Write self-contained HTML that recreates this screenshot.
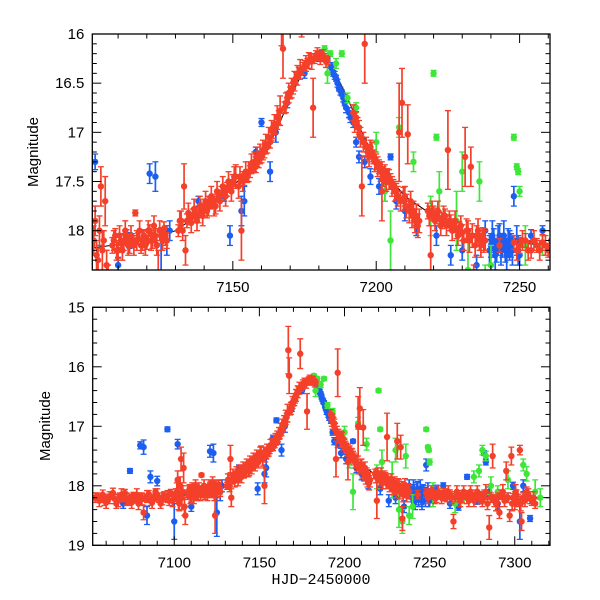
<!DOCTYPE html>
<html><head><meta charset="utf-8"><style>
html,body{margin:0;padding:0;background:#fff;}
svg{display:block;font-family:"Liberation Sans",sans-serif;}
</style></head><body>
<svg id="chart" width="600" height="600" viewBox="0 0 600 600"></svg>
<script>
// Data: [time, magnitude, error]
const redData = [
[7055,18.18,.06],[7057,18.22,.06],[7059,18.25,.08],[7061,18.2,.06],[7063,18.15,.05],[7065,18.22,.08],[7066,18.3,.08],[7068,18.18,.06],[7070,18.2,.07],[7071,18.12,.06],[7073,18.25,.08],[7074,18.2,.06],[7076,18.16,.05],[7077,18.22,.07],[7079,18.3,.1],[7080,18.18,.06],[7082,18.45,.12],[7083,18.2,.06],[7085,18.14,.06],[7086,18.25,.08],[7088,18.2,.06],[7089,18.1,.05],[7091,18.22,.06],[7092,18.3,.08],[7094,18.16,.06],[7095,18.2,.07],[7097,18.25,.08],[7098,18.12,.06],[7100,18.2,.06],[7101,18.15,.1],[7102,17.9,.15],[7103,18.3,.12],[7104,17.55,.2],[7105,18.1,.1],[7105.5,17.7,.25],[7106,18.35,.15],[7106.5,18.5,.15],
[7108,18.15,.08],[7109,18.05,.07],[7110,18.2,.08],[7111,18.1,.07],[7112,18.12,.08],[7113,18.05,.06],[7114,18.15,.08],[7115,18.1,.07],[7116,17.82,.03],[7117,18.08,.06],[7118,18.15,.08],[7119,18.05,.06],[7120,18.12,.07],[7121,18.0,.06],[7122,18.1,.08],[7123,18.05,.07],[7124,18.5,.3],[7125,18.05,.08],[7126,17.98,.07],[7127,18.1,.08],
[7131,18.0,.06],[7132,17.9,.1],[7133,17.55,.23],[7133.5,18.2,.15],[7134,17.9,.07],[7135,17.88,.06],[7136,17.85,.07],[7137,17.82,.06],[7138,17.85,.07],[7139,17.78,.06],[7140,17.75,.07],[7141,17.8,.07],[7142,17.72,.06],[7143,17.7,.07],[7144,17.75,.08],[7145,17.65,.06],[7146,17.62,.07],[7147,17.6,.06],[7148,17.58,.07],[7149,17.55,.06],[7150,17.5,.07],[7151,17.45,.12],[7152,17.55,.12],[7153,18.0,.3],[7154,17.48,.06],[7155,17.45,.06],[7156,17.4,.06],[7157,17.35,.06],[7158,17.35,.06],[7159,17.3,.06],[7160,17.25,.06],[7161,17.2,.06],[7162,17.15,.06],[7163,17.1,.06],[7164,17.0,.06],[7165,16.95,.06],[7166,16.85,.07],[7167,15.72,.4],[7167.5,16.15,.3],[7168,16.75,.06],[7169,16.65,.06],[7170,16.6,.06],[7171,16.55,.06],[7172,16.45,.06],[7173,16.4,.06],[7174,15.78,.25],[7174.5,16.35,.06],[7175,16.32,.05],[7176,16.3,.05],[7177,16.25,.05],[7178,16.75,.3],[7178.5,16.25,.05],[7179,16.22,.05],[7180,16.22,.04],[7181,16.2,.04],[7182,16.24,.04],[7183,16.27,.04],
[7192,16.8,.08],[7193,16.85,.06],[7194,16.95,.07],[7195,17.55,.3],[7196,16.1,.4],[7197,17.2,.08],[7198,17.15,.07],[7199,17.25,.07],[7200,17.3,.08],[7201,17.35,.07],[7202,17.6,.3],[7203,17.4,.07],[7204,17.45,.08],[7205,17.5,.08],[7206,17.55,.07],[7207,17.6,.08],[7208,17.0,.5],[7209,16.7,.35],[7210,17.65,.1],[7211,17.02,.3],[7212,17.7,.1],[7213,17.8,.1],[7214,17.85,.12],[7215,17.9,.12],
[7218,17.8,.08],[7219,18.25,.3],[7220,17.82,.07],[7221,17.85,.08],[7222,17.88,.07],[7223,17.9,.08],[7224,17.85,.07],[7225,17.18,.4],[7226,17.92,.08],[7227,17.95,.07],[7228,18.0,.08],[7229,17.98,.07],[7230,18.02,.08],[7231,17.25,.3],[7232,18.0,.1],[7233,17.35,.2],[7234,18.55,.2],[7235,18.05,.1],[7236,18.1,.1],[7237,18.05,.08],[7238,18.1,.1],
[7243,18.15,.07],[7248,18.12,.07],[7250,18.15,.08],[7252,18.1,.07],[7254,18.2,.08],[7256,18.15,.07],[7258,18.12,.08],[7260,18.2,.07],[7262,18.15,.08],[7264,18.6,.12],[7265,18.2,.07],[7267,18.15,.07],[7269,18.2,.08],[7271,18.15,.07],[7273,18.25,.1],[7275,18.2,.07],[7277,18.15,.08],[7279,18.2,.07],[7281,18.25,.1],[7282,18.15,.08],[7284,18.3,.1],[7285,18.7,.2],[7286,18.2,.08],[7287,17.5,.2],[7288,18.25,.1],[7290,18.2,.08],[7291,18.45,.1],[7292,18.15,.08],[7294,18.25,.1],[7295,17.75,.15],[7296,18.2,.08],[7297,18.5,.1],[7298,17.5,.15],[7299,18.2,.07],[7300,18.3,.1],[7301,18.15,.08],[7302,18.25,.1],[7303,17.4,.08],[7304,18.6,.15],[7305,18.2,.08],[7306,18.25,.1],[7307,18.1,.08],[7309,18.2,.1],[7310,18.25,.08],
[7053.5,18.2,.08],[7056,18.25,.1],[7058,18.15,.08],[7060,18.28,.1],[7062,18.2,.1],[7064,18.12,.08],[7067,18.25,.1],[7069,18.15,.1],[7072,18.22,.1],[7075,18.28,.1],[7078,18.15,.1],[7081,18.22,.1],[7084,18.18,.1],[7087,18.28,.1],[7090,18.15,.1],[7093,18.22,.1],[7096,18.18,.1],[7099,18.25,.1],[7101.5,18.1,.15],[7102.5,18.25,.15],[7103.5,18.0,.15],[7104.5,18.2,.2],
[7108.5,18.1,.1],[7109.5,18.2,.1],[7110.5,18.05,.1],[7111.5,18.2,.1],[7112.5,18.0,.1],[7113.5,18.15,.1],[7114.5,18.05,.1],[7115.5,18.15,.1],[7116.5,18.1,.1],[7117.5,18.0,.1],[7118.5,18.1,.1],[7119.5,18.15,.1],[7120.5,18.0,.1],[7121.5,18.1,.1],[7122.5,17.95,.1],[7123.5,18.15,.1],[7124.5,18.0,.1],[7125.5,18.1,.1],[7126.5,18.05,.1],
[7131.5,17.9,.1],[7132.5,18.0,.1],[7134.5,17.82,.1],[7135.5,17.92,.1],[7136.5,17.78,.1],[7137.5,17.9,.1],[7138.5,17.75,.1],[7139.5,17.85,.1],[7140.5,17.7,.1],[7141.5,17.75,.1],[7142.5,17.65,.1],[7143.5,17.75,.1],[7144.5,17.6,.1],[7145.5,17.7,.1],[7146.5,17.55,.1],[7147.5,17.65,.1],[7148.5,17.5,.1],[7149.5,17.6,.1],[7150.5,17.45,.1],[7152.5,17.45,.1],[7153.5,17.5,.1],[7154.5,17.4,.1],[7155.5,17.4,.1],[7156.5,17.32,.1],[7157.5,17.3,.1],[7158.5,17.25,.1],[7159.5,17.22,.1],[7160.5,17.18,.1],[7161.5,17.12,.1],[7162.5,17.05,.1],[7163.5,16.98,.1],[7164.5,16.92,.1],[7165.5,16.85,.12],[7166.5,16.78,.15],[7168.5,16.7,.1],[7169.5,16.6,.1],[7170.5,16.55,.1],[7171.5,16.48,.1],[7172.5,16.42,.1],[7173.5,16.36,.1],[7175.5,16.3,.08],[7176.5,16.27,.08],[7177.5,16.28,.08],[7179.5,16.2,.06],[7180.5,16.25,.06],[7181.5,16.22,.06],[7182.5,16.28,.06],
[7192.5,16.9,.1],[7193.5,16.95,.1],[7194.5,17.05,.1],[7195.5,17.1,.1],[7196.5,17.15,.1],[7197.5,17.25,.1],[7198.5,17.2,.1],[7199.5,17.3,.1],[7200.5,17.35,.1],[7201.5,17.4,.1],[7202.5,17.45,.1],[7203.5,17.5,.1],[7204.5,17.48,.1],[7205.5,17.55,.1],[7206.5,17.6,.1],[7207.5,17.65,.1],[7208.5,17.7,.1],[7209.5,17.68,.12],[7210.5,17.75,.12],[7211.5,17.8,.12],[7212.5,17.85,.12],[7213.5,17.9,.12],[7214.5,17.95,.12],
[7218.5,17.85,.1],[7219.5,17.8,.1],[7220.5,17.9,.1],[7221.5,17.8,.1],[7222.5,17.95,.1],[7223.5,17.85,.1],[7224.5,17.95,.1],[7225.5,17.9,.1],[7226.5,18.0,.1],[7227.5,17.9,.1],[7228.5,18.05,.1],[7229.5,17.95,.1],[7230.5,18.1,.1],[7231.5,18.0,.12],[7232.5,18.1,.12],[7233.5,18.05,.12],[7234.5,18.15,.12],[7235.5,18.0,.12],[7236.5,18.15,.12],[7237.5,18.1,.12],
[7249,18.2,.1],[7251,18.1,.1],[7253,18.2,.1],[7255,18.1,.1],[7257,18.2,.1],[7259,18.15,.1],[7261,18.1,.1],[7263,18.2,.1],[7266,18.1,.1],[7268,18.25,.1],[7270,18.1,.1],[7272,18.2,.1],[7274,18.1,.1],[7276,18.25,.1],[7278,18.1,.1],[7280,18.2,.1],[7283,18.1,.12],[7289,18.3,.12],[7293,18.1,.12],[7298.5,18.3,.12],[7300.5,18.1,.12],[7303.5,18.3,.12],[7308,18.15,.1],[7311,18.2,.1],[7312,18.3,.08]
];
const blueData = [
[7070,18.3,.08],[7074,17.75,.04],[7080,17.32,.06],[7082,17.35,.12],[7084,18.5,.15],[7086,17.85,.1],[7090,17.92,.08],[7096,17.05,.04],[7100,18.6,.3],[7102,17.3,.08],[7110,18.35,.08],[7114,18.1,.08],[7121,17.42,.1],[7123,17.45,.15],[7125,18.45,.4],[7127,18.1,.15],[7128,18.0,.1],[7138,17.7,.05],[7147,17.65,.05],[7149,18.05,.1],[7153,17.8,.15],[7154,17.7,.15],[7158,17.2,.05],[7160,16.9,.04],[7163,17.4,.1],[7165,17.0,.1],[7169,16.7,.05],[7175,16.4,.05],[7180,16.25,.03],[7181,16.2,.03],[7183,16.25,.03],[7184,16.32,.03],[7185,16.4,.03],[7186,16.45,.03],[7187,16.55,.03],[7188,16.6,.03],[7189,16.7,.03],[7192,16.9,.05],[7193,17.1,.05],[7194,17.25,.06],[7196,17.3,.06],[7198,17.45,.08],[7201,17.55,.08],[7203,17.6,.1],[7205,17.25,.03],[7207,17.7,.08],[7210,17.8,.1],[7214,17.95,.1],[7221,18.05,.1],[7226,18.25,.1],[7230,18.2,.1],[7235,18.35,.1],[7238,18.0,.1],[7240,18.15,.12],[7241,18.1,.12],[7242,18.2,.12],[7243,18.05,.12],[7244,18.15,.12],[7245,18.2,.12],[7246,18.1,.12],[7247,18.15,.12],[7248,17.65,.1],[7250,18.25,.1],[7254,18.05,.06],[7258,18.0,.05],[7262,18.3,.08],[7267,18.35,.06],[7272,17.85,.04],[7278,18.25,.06],[7280,18.2,.1],[7282,17.45,.04],[7283,17.6,.05],[7285,18.1,.08],[7290,18.3,.1],[7296,18.2,.08],[7299,18.0,.06],[7303,18.6,.3],[7305,18.0,.1],[7309,18.55,.05],
[7239.5,18.2,.15],[7240.5,18.05,.15],[7241.5,18.25,.15],[7242.5,18.1,.15],[7243.5,18.2,.15],[7244.5,18.05,.15],[7245.5,18.25,.15],[7246.5,18.15,.15],[7247.5,18.2,.15],[7249,18.1,.15],[7249.5,18.2,.15],
[7184.5,16.35,.04],[7185.5,16.42,.04],[7186.5,16.5,.04],[7187.5,16.58,.04],[7188.5,16.65,.04],[7189.5,16.75,.05],[7190.5,16.8,.05],[7191,16.85,.05]
];
const greenData = [
[7182,16.15,.03],[7183,16.4,.1],[7184,16.2,.03],[7186,16.3,.05],[7188,16.2,.03],[7190,16.65,.05],[7193,16.75,.05],[7200,17.1,.1],[7203,17.6,.1],[7205,18.1,.3],[7208,16.95,.1],[7213,17.3,.1],[7219,17.85,.2],[7220,16.4,.03],[7221,17.05,.03],[7222,17.6,.2],[7228,17.9,.3],[7230,17.4,.2],[7232,18.4,.3],[7234,18.6,.2],[7236,17.5,.2],[7238,18.5,.15],[7240,18.35,.2],[7248,17.05,.03],[7249,17.35,.03],[7249.5,17.4,.03],[7250,17.6,.05],[7252,18.15,.2],[7258,18.15,.1],[7265,18.3,.15],[7270,18.2,.1],[7276,17.85,.1],[7279,17.75,.1],[7281,17.4,.08],[7283,17.5,.08],[7286,18.0,.15],[7290,18.1,.1],[7296,17.9,.15],[7300,18.2,.1],[7305,17.65,.1],[7307,17.8,.12],[7312,18.1,.2],[7315,18.2,.15]
];
const modelT = [7052,7100,7120,7130,7140,7150,7160,7165,7170,7175,7180,7182,7185,7190,7195,7200,7210,7220,7230,7240,7260,7320];
const modelM = [18.2,18.18,18.1,18.0,17.8,17.55,17.25,17.0,16.65,16.35,16.22,16.2,16.35,16.65,17.0,17.3,17.65,17.85,18.0,18.1,18.15,18.2];
const topXTicks = [7150,7200,7250];
const topYTicks = ["16","16.5","17","17.5","18"];
const botXTicks = [7100,7150,7200,7250,7300];
const botYTicks = ["15","16","17","18","19"];

const NS="http://www.w3.org/2000/svg";
const svg=document.getElementById('chart');
function mk(tag,attrs,parent){const e=document.createElementNS(NS,tag);for(const k in attrs)e.setAttribute(k,attrs[k]);(parent||svg).appendChild(e);return e;}

const panels=[
 {id:'top',x0:92.3,x1:550,y0:34,y1:270,t0:7101,t1:7260.6,m0:16,m1:18.4,xt:topXTicks,yt:topYTicks,xminor:10,yminor:0.1,ttl:38,tty:152},
 {id:'bottom',x0:92.7,x1:550,y0:307.3,y1:545.3,t0:7052.1,t1:7320.7,m0:15,m1:19,xt:botXTicks,yt:botYTicks,xminor:10,yminor:0.2,ttl:50,tty:426}
];
const colors={red:'#f4402a',blue:'#1c5ef2',green:'#3fe63a'};

panels.forEach(p=>{
 const X=t=>p.x0+(t-p.t0)/(p.t1-p.t0)*(p.x1-p.x0);
 const Y=m=>p.y0+(m-p.m0)/(p.m1-p.m0)*(p.y1-p.y0);
 const g=mk('g',{});
 
 
 const cp=mk('clipPath',{id:'clip-'+p.id},g);
 mk('rect',{x:p.x0,y:p.y0,width:p.x1-p.x0,height:p.y1-p.y0},cp);
 const plot=mk('g',{'clip-path':'url(#clip-'+p.id+')'},g);
 
 
 let d='';modelT.forEach((t,i)=>{d+=(i?'L':'M')+X(t).toFixed(1)+','+Y(modelM[i]).toFixed(1);});
 const ml=mk('path',{d:d,fill:'none',stroke:'#000','stroke-width':1},plot);
 
 
 [['blue',blueData],['green',greenData],['red',redData]].forEach(([c,data])=>{
  const sg=mk('g',{stroke:colors[c],fill:colors[c]},plot);
  
  
  data.forEach(([t,m,e])=>{
   const x=X(t),y=Y(m),ya=Y(m-e),yb=Y(m+e);
   const pt=mk('g',{},sg);
   
   
   mk('line',{x1:x,x2:x,y1:ya,y2:yb,'stroke-width':1.7},pt);
   mk('line',{x1:x-3,x2:x+3,y1:ya,y2:ya,'stroke-width':1.3},pt);
   mk('line',{x1:x-3,x2:x+3,y1:yb,y2:yb,'stroke-width':1.3},pt);
   mk('circle',{cx:x,cy:y,r:3.2,stroke:'none'},pt);
  });
 });
 const fr=mk('rect',{x:p.x0,y:p.y0,width:p.x1-p.x0,height:p.y1-p.y0,fill:'none',stroke:'#000','stroke-width':1.3},g);
 
 
 for(let t=Math.ceil(p.t0/p.xminor)*p.xminor;t<=p.t1;t+=p.xminor){
  const major=t%50===0,L=major?9:4.5,x=X(t);
  mk('line',{x1:x,x2:x,y1:p.y1,y2:p.y1-L,stroke:'#000','stroke-width':1},g);
  mk('line',{x1:x,x2:x,y1:p.y0,y2:p.y0+L,stroke:'#000','stroke-width':1},g);
 }
 p.xt.forEach(t=>{const tx=mk('text',{x:X(t),y:p.y1+22,'text-anchor':'middle','font-size':15},g);tx.textContent=t;
  });
 const nMin=Math.round((p.m1-p.m0)/p.yminor);
 for(let i=0;i<=nMin;i++){
  const m=p.m0+i*p.yminor,y=Y(m);
  const major=Math.abs(m*2-Math.round(m*2))<1e-6&&(p.id==='top'||Math.abs(m-Math.round(m))<1e-6);
  const L=major?9:4.5;
  mk('line',{x1:p.x0,x2:p.x0+L,y1:y,y2:y,stroke:'#000','stroke-width':1},g);
  mk('line',{x1:p.x1,x2:p.x1-L,y1:y,y2:y,stroke:'#000','stroke-width':1},g);
 }
 p.yt.forEach(s=>{const tx=mk('text',{x:p.x0-8,y:Y(parseFloat(s))+5,'text-anchor':'end','font-size':15},g);tx.textContent=s;
  });
 const yt=mk('text',{x:p.ttl,y:p.tty,'text-anchor':'middle','font-size':15,transform:'rotate(-90 '+p.ttl+' '+p.tty+')'},g);
 yt.textContent='Magnitude';
 
 
});
const xt=mk('text',{x:321,y:584,'text-anchor':'middle','font-size':15,'font-family':'Liberation Mono, monospace'});
xt.textContent='HJD\u22122450000';


</script>
</body></html>
